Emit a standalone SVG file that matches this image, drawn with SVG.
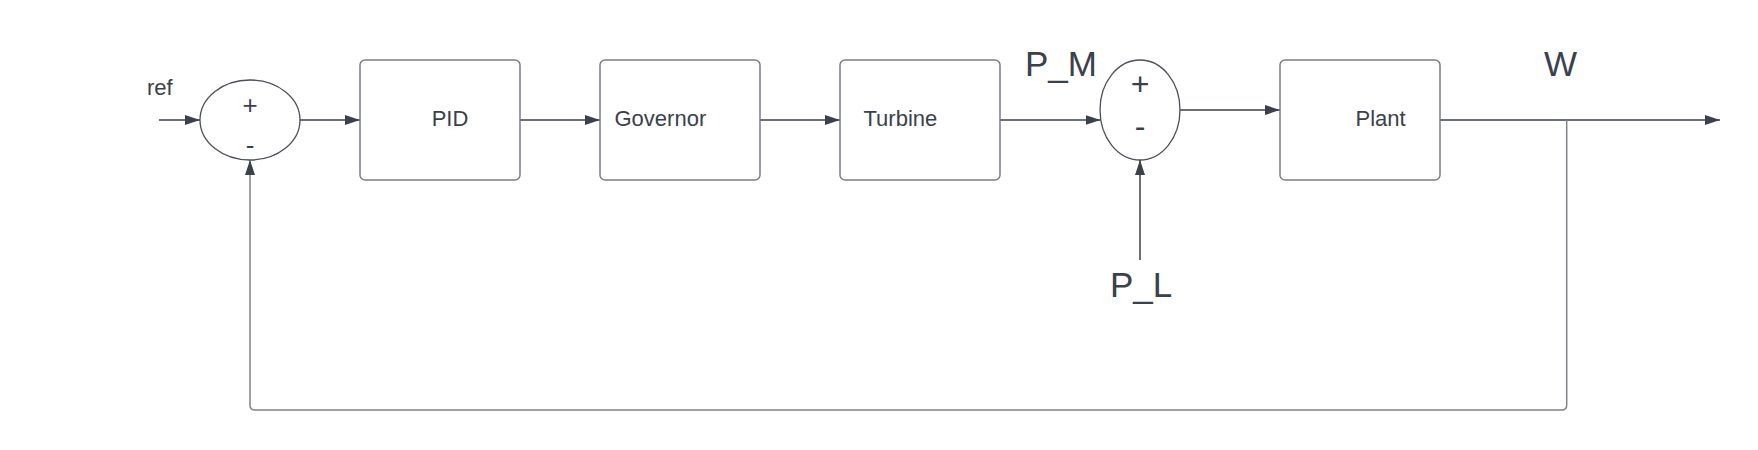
<svg xmlns="http://www.w3.org/2000/svg" width="1758" height="450" viewBox="0 0 1758 450">
<style>
  .box { fill: #ffffff; stroke: #7a7f87; stroke-width: 1.5; }
  .sum { fill: #ffffff; stroke: #4b5159; stroke-width: 1.3; }
  .lbl { font-family: "Liberation Sans", Arial, sans-serif; font-size: 22px; fill: #3a414a; }
  .big { font-family: "Liberation Sans", Arial, sans-serif; font-size: 35px; fill: #3a414a; }
  .sign { font-family: "Liberation Sans", Arial, sans-serif; fill: #3a414a; text-anchor: middle; }
  .wire { fill: none; stroke: #3a414a; stroke-width: 1.5; }
  .fb { fill: none; stroke: #7f848b; stroke-width: 1.5; }
</style>
<defs>
  <marker id="arrow" markerUnits="userSpaceOnUse" markerWidth="15" markerHeight="10" refX="15" refY="5" orient="auto">
    <path d="M0,0 L15,5 L0,10 z" fill="#3a414a"/>
  </marker>
</defs>
<rect width="1758" height="450" fill="#ffffff"/>

<g id="connectors">
  <path class="wire" d="M159,120 L200,120" marker-end="url(#arrow)"/>
  <path class="wire" d="M300,120 L360,120" marker-end="url(#arrow)"/>
  <path class="wire" d="M520,120 L600,120" marker-end="url(#arrow)"/>
  <path class="wire" d="M760,120 L840,120" marker-end="url(#arrow)"/>
  <path class="wire" d="M1000,120 L1100.5,120" marker-end="url(#arrow)"/>
  <path class="wire" d="M1180,110 L1280,110" marker-end="url(#arrow)"/>
  <path class="wire" d="M1440,120 L1720,120" marker-end="url(#arrow)"/>
  <path class="wire" d="M1140,260 L1140,160" marker-end="url(#arrow)"/>
  <path class="fb" d="M1566.7,120 L1566.7,405 Q1566.7,410 1561.7,410 L255,410 Q250,410 250,405 L250,160" marker-end="url(#arrow)"/>
</g>

<g id="ref-label">
  <text class="lbl" x="147" y="95">ref</text>
</g>

<g id="sum1">
  <ellipse class="sum" cx="250" cy="120" rx="50" ry="40"/>
  <text class="sign" x="250" y="114" font-size="26">+</text>
  <text class="sign" x="250" y="154" font-size="26">-</text>
</g>

<g id="pid">
  <rect class="box" x="360" y="60" width="160" height="120" rx="5"/>
  <text class="lbl" x="450" y="126" text-anchor="middle">PID</text>
</g>

<g id="governor">
  <rect class="box" x="600" y="60" width="160" height="120" rx="5"/>
  <text class="lbl" x="614.5" y="125.5">Governor</text>
</g>

<g id="turbine">
  <rect class="box" x="840" y="60" width="160" height="120" rx="5"/>
  <text class="lbl" x="863.5" y="125.5">Turbine</text>
</g>

<g id="pm-label">
  <text class="big" x="1025" y="76">P_M</text>
</g>

<g id="sum2">
  <ellipse class="sum" cx="1140" cy="110" rx="40" ry="50"/>
  <text class="sign" x="1140" y="95" font-size="32">+</text>
  <text class="sign" x="1140" y="137" font-size="32">-</text>
</g>

<g id="pl-label">
  <text class="big" x="1110" y="297">P_L</text>
</g>

<g id="plant">
  <rect class="box" x="1280" y="60" width="160" height="120" rx="5"/>
  <text class="lbl" x="1355.5" y="125.5">Plant</text>
</g>

<g id="w-label">
  <text class="big" x="1544" y="76">W</text>
</g>
</svg>
